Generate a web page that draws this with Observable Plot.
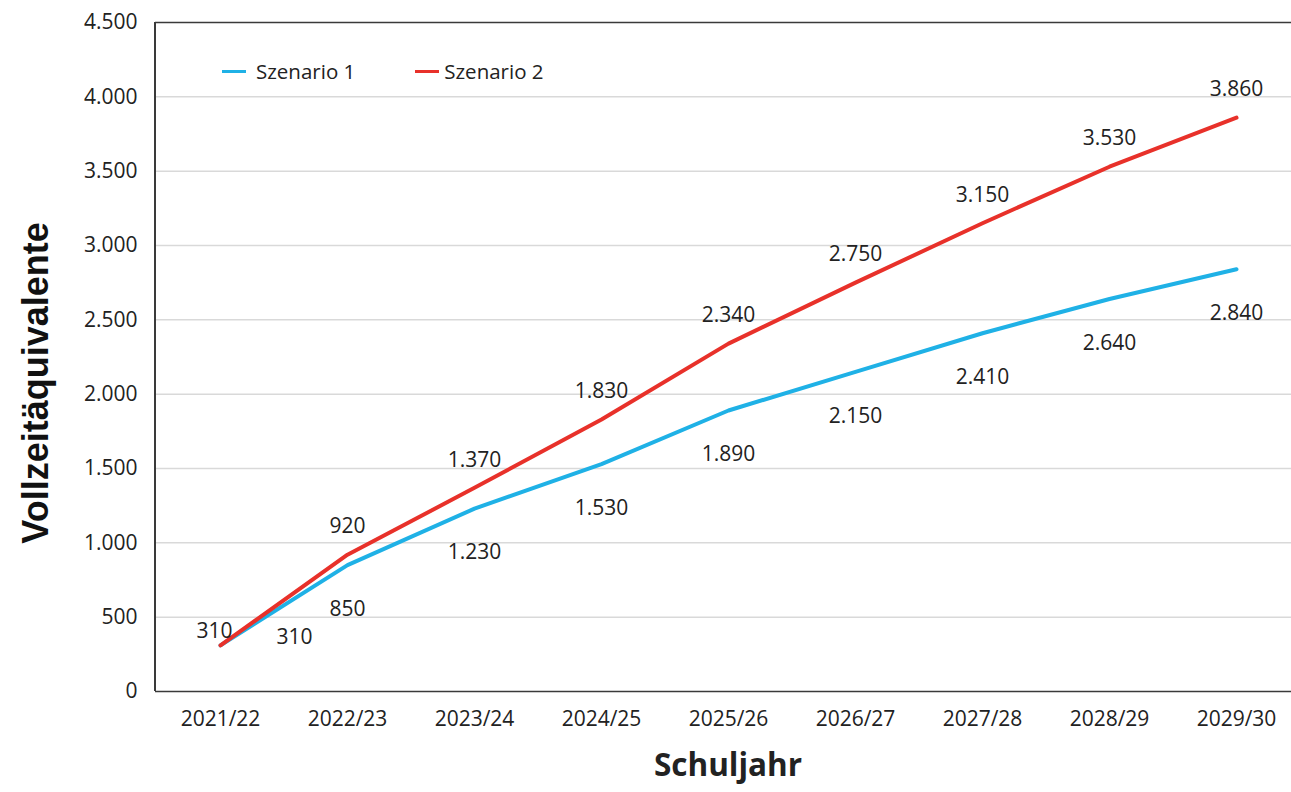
<!DOCTYPE html>
<html>
<head>
<meta charset="utf-8">
<script src="https://cdn.jsdelivr.net/npm/d3@7"></script>
<script src="https://cdn.jsdelivr.net/npm/@observablehq/plot@0.6"></script>
<style>
  body { margin: 0; background: #fff; }
  #wrap { position: relative; width: 1291px; height: 792px; }
  #legend { position: absolute; left: 222px; top: 57px; font-family: "Open Sans", sans-serif; font-size: 20.5px; color: #222; display: flex; }
  #legend .item { display: flex; align-items: center; }
  #legend .sw { display: inline-block; width: 24px; height: 3px; }
</style>
</head>
<body>
<div id="wrap">
  <div id="chart"></div>
  <div id="legend"></div>
</div>
<script>
const years = ["2021/22","2022/23","2023/24","2024/25","2025/26","2026/27","2027/28","2028/29","2029/30"];
const szenario1 = [310, 850, 1230, 1530, 1890, 2150, 2410, 2640, 2840];
const szenario2 = [310, 920, 1370, 1830, 2340, 2750, 3150, 3530, 3860];
const seriesNames = ["Szenario 1", "Szenario 2"];
const seriesColors = ["#1fb1e6", "#e8312a"];
const yTicks = [0, 500, 1000, 1500, 2000, 2500, 3000, 3500, 4000, 4500];

const fmt = v => v.toLocaleString("de-DE");
const rows1 = years.map((y, i) => ({year: y, value: szenario1[i], series: seriesNames[0], i}));
const rows2 = years.map((y, i) => ({year: y, value: szenario2[i], series: seriesNames[1], i}));

const font = "'Open Sans', sans-serif";
const labelSize = 21;

const chart = Plot.plot({
  width: 1291,
  height: 792,
  marginTop: 22,
  marginBottom: 101,
  marginLeft: 155,
  marginRight: -9,
  style: {fontFamily: font, background: "#fff"},
  x: {type: "point", domain: years, padding: 0.5, label: null},
  y: {domain: [0, 4500], label: null},
  marks: [
    Plot.ruleY(yTicks.filter(t => t > 0 && t < 4500), {stroke: "#d9d9d9", strokeWidth: 1.5}),
    Plot.ruleY([4500], {stroke: "#3a3a3a", strokeWidth: 1.5}),
    Plot.ruleY([0], {stroke: "#3a3a3a", strokeWidth: 1.5}),
    Plot.axisY({ticks: yTicks, tickSize: 0, tickPadding: 18, tickFormat: fmt, fontSize: labelSize, fill: "#222", label: null}),
    Plot.axisX({tickSize: 0, tickPadding: 20, fontSize: labelSize, fill: "#222", label: null}),
    Plot.line(rows1, {x: "year", y: "value", stroke: seriesColors[0], strokeWidth: 4}),
    Plot.line(rows2, {x: "year", y: "value", stroke: seriesColors[1], strokeWidth: 4}),
    Plot.text(rows1.filter(d => d.i > 0), {x: "year", y: "value", text: d => fmt(d.value), dy: 44, fontSize: labelSize, fill: "#222"}),
    Plot.text(rows1.filter(d => d.i === 0), {x: "year", y: "value", text: d => fmt(d.value), dy: -8, dx: 74, fontSize: labelSize, fill: "#222"}),
    Plot.text(rows2.filter(d => d.i > 0), {x: "year", y: "value", text: d => fmt(d.value), dy: -28, fontSize: labelSize, fill: "#222"}),
    Plot.text(rows2.filter(d => d.i === 0), {x: "year", y: "value", text: d => fmt(d.value), dy: -14, dx: -6, fontSize: labelSize, fill: "#222"}),
    Plot.text(["Schuljahr"], {frameAnchor: "bottom", dy: 84, fontSize: 31.5, fontWeight: "bold", fill: "#222"})
  ]
});
document.getElementById("chart").appendChild(chart);
const svg = d3.select(chart);
svg.append("line").attr("x1", 155).attr("x2", 155).attr("y1", 22).attr("y2", 691).attr("stroke", "#3a3a3a").attr("stroke-width", 2);
svg.append("text")
  .attr("transform", "translate(48,383) rotate(-90)")
  .attr("text-anchor", "middle")
  .attr("font-family", "'Liberation Sans', Arial, sans-serif")
  .attr("font-weight", "bold")
  .attr("font-size", 36)
  .attr("fill", "#111")
  .text("Vollzeitäquivalente");

const legend = document.getElementById("legend");
seriesNames.forEach((name, k) => {
  const item = document.createElement("div");
  item.className = "item";
  item.style.marginRight = k === 0 ? "60px" : "0";
  const sw = document.createElement("span");
  sw.className = "sw";
  sw.style.background = seriesColors[k];
  sw.style.marginRight = k === 0 ? "10px" : "5px";
  item.appendChild(sw);
  item.appendChild(document.createTextNode(name));
  legend.appendChild(item);
});
</script>
</body>
</html>
